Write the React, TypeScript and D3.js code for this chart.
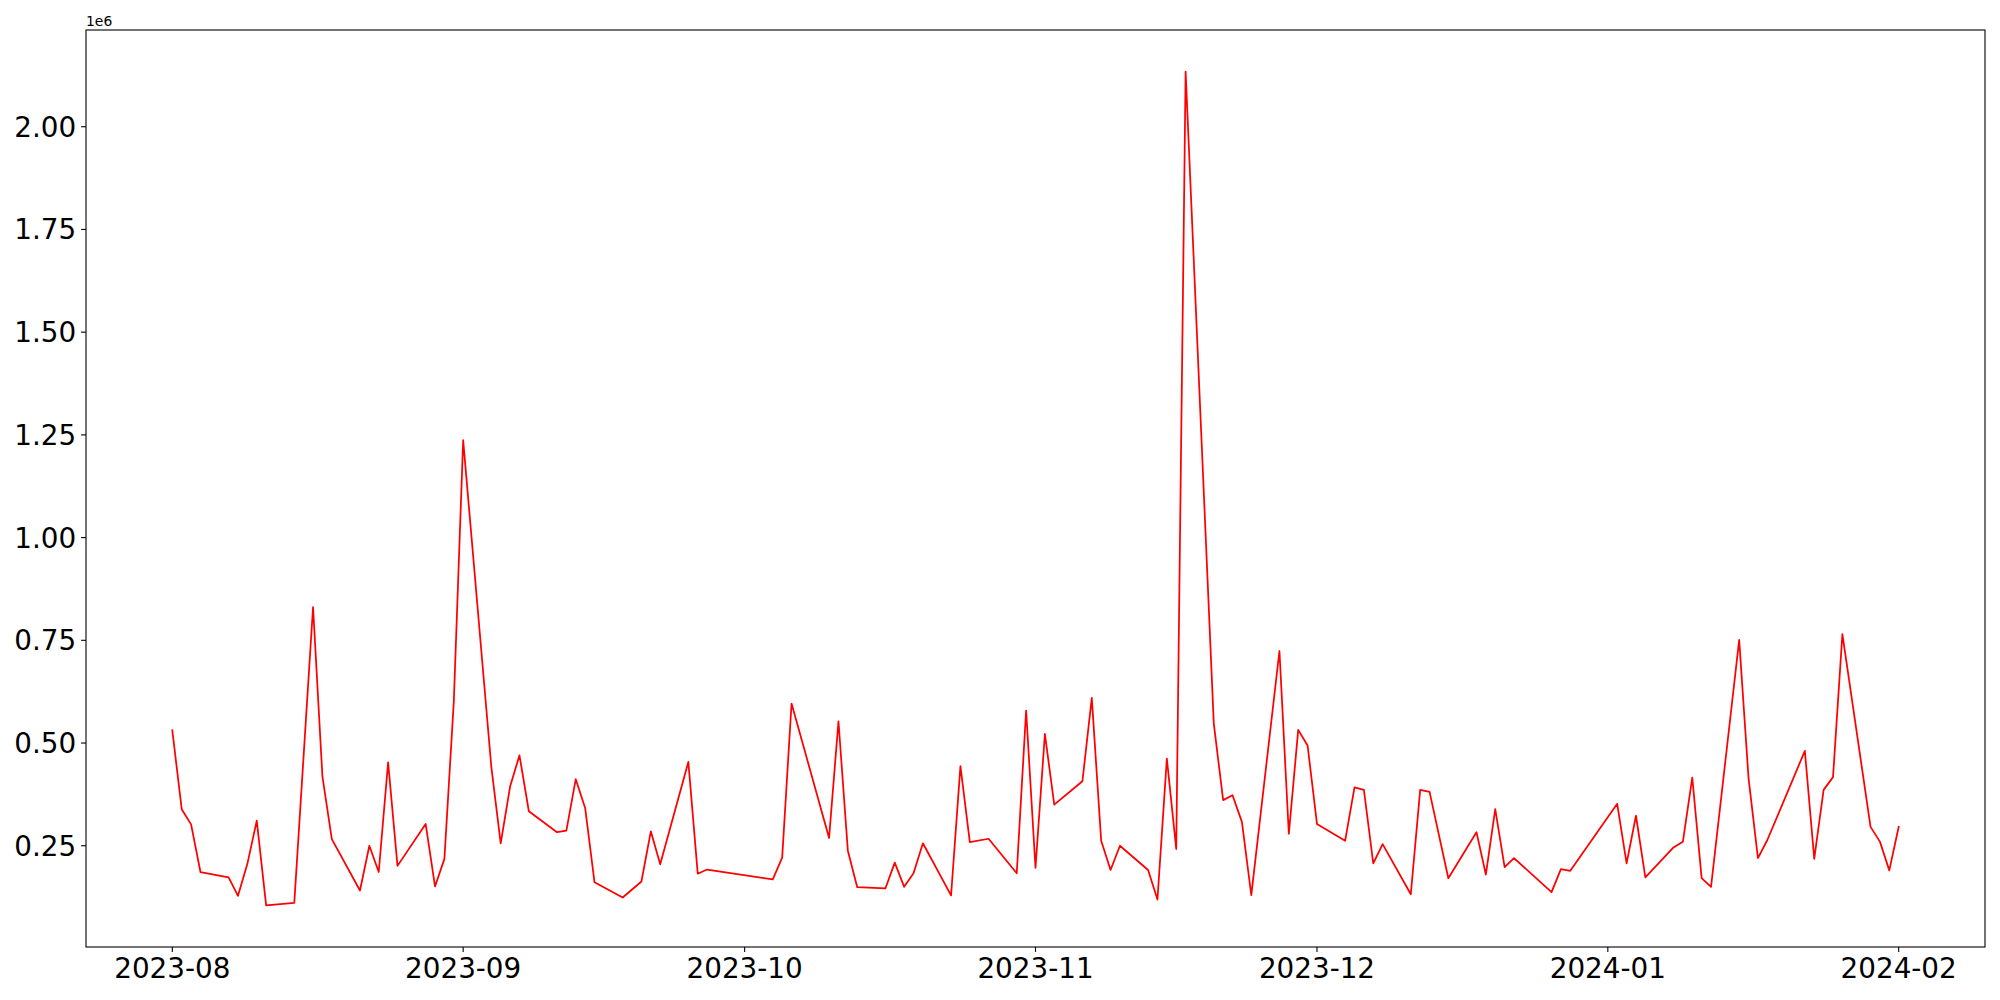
import React, { useEffect, useRef } from "react";
import * as d3 from "d3";

const dates: string[] = [
  "2023-08-01","2023-08-02","2023-08-03","2023-08-04","2023-08-07","2023-08-08","2023-08-09","2023-08-10","2023-08-11","2023-08-14",
  "2023-08-16","2023-08-17","2023-08-18","2023-08-21","2023-08-22","2023-08-23","2023-08-24","2023-08-25","2023-08-28","2023-08-29",
  "2023-08-30","2023-08-31","2023-09-01","2023-09-04","2023-09-05","2023-09-06","2023-09-07","2023-09-08","2023-09-11","2023-09-12",
  "2023-09-13","2023-09-14","2023-09-15","2023-09-18","2023-09-20","2023-09-21","2023-09-22","2023-09-25","2023-09-26","2023-09-27",
  "2023-10-04","2023-10-05","2023-10-06","2023-10-10","2023-10-11","2023-10-12","2023-10-13","2023-10-16","2023-10-17","2023-10-18",
  "2023-10-19","2023-10-20","2023-10-23","2023-10-24","2023-10-25","2023-10-27","2023-10-30","2023-10-31","2023-11-01","2023-11-02",
  "2023-11-03","2023-11-06","2023-11-07","2023-11-08","2023-11-09","2023-11-10","2023-11-13","2023-11-14","2023-11-15","2023-11-16",
  "2023-11-17","2023-11-20","2023-11-21","2023-11-22","2023-11-23","2023-11-24","2023-11-27","2023-11-28","2023-11-29","2023-11-30",
  "2023-12-01","2023-12-04","2023-12-05","2023-12-06","2023-12-07","2023-12-08","2023-12-11","2023-12-12","2023-12-13","2023-12-15",
  "2023-12-18","2023-12-19","2023-12-20","2023-12-21","2023-12-22","2023-12-26","2023-12-27","2023-12-28","2024-01-02","2024-01-03",
  "2024-01-04","2024-01-05","2024-01-08","2024-01-09","2024-01-10","2024-01-11","2024-01-12","2024-01-15","2024-01-16","2024-01-17",
  "2024-01-18","2024-01-22","2024-01-23","2024-01-24","2024-01-25","2024-01-26","2024-01-29","2024-01-30","2024-01-31","2024-02-01",
];

// values in units of 1e6
const values: number[] = [
  0.531,0.339,0.302,0.186,0.173,0.128,0.206,0.311,0.105,0.111,
  0.831,0.418,0.266,0.141,0.250,0.186,0.453,0.201,0.303,0.151,
  0.218,0.600,1.237,0.442,0.256,0.394,0.470,0.334,0.283,0.287,
  0.412,0.342,0.161,0.124,0.163,0.285,0.205,0.454,0.182,0.192,
  0.168,0.221,0.596,0.269,0.553,0.238,0.149,0.146,0.209,0.150,
  0.183,0.256,0.129,0.444,0.259,0.267,0.183,0.579,0.196,0.522,
  0.350,0.407,0.610,0.262,0.191,0.250,0.191,0.119,0.462,0.242,
  2.134,0.548,0.361,0.373,0.308,0.130,0.724,0.279,0.532,0.494,
  0.303,0.262,0.392,0.386,0.207,0.254,0.132,0.386,0.381,0.171,
  0.283,0.180,0.339,0.198,0.220,0.137,0.193,0.189,0.352,0.207,
  0.323,0.173,0.246,0.260,0.416,0.171,0.150,0.751,0.414,0.220,
  0.264,0.481,0.218,0.386,0.417,0.765,0.296,0.260,0.190,0.296,
];

const yTicks: number[] = [0.25, 0.5, 0.75, 1.0, 1.25, 1.5, 1.75, 2.0];
const xTickLabels: string[] = ["2023-08", "2023-09", "2023-10", "2023-11", "2023-12", "2024-01", "2024-02"];

const W = 2000, H = 1000;
const L = 86, R = 1985, T = 30, B = 947;
const FONT = "DejaVu Sans, sans-serif";

export default function App() {
  const ref = useRef<SVGSVGElement>(null);
  useEffect(() => {
    const svg = d3.select(ref.current);
    svg.selectAll("*").remove();
    const parse = d3.utcParse("%Y-%m-%d");
    const data = dates.map((d, i) => ({ d: parse(d) as Date, v: values[i] }));
    const [x0, x1] = d3.extent(data, (p) => p.d) as [Date, Date];
    const span = +x1 - +x0;
    const x = d3.scaleUtc().domain([new Date(+x0 - span * 0.05), new Date(+x1 + span * 0.05)]).range([L, R]);
    const [v0, v1] = d3.extent(values) as [number, number];
    const vs = v1 - v0;
    const y = d3.scaleLinear().domain([v0 - vs * 0.05, v1 + vs * 0.05]).range([B, T]);

    svg.append("rect").attr("width", W).attr("height", H).attr("fill", "white");

    const line = d3.line<{ d: Date; v: number }>().x((p) => x(p.d)).y((p) => y(p.v));
    svg.append("path").datum(data).attr("d", line).attr("fill", "none")
      .attr("stroke", "#ff0000").attr("stroke-width", 1.75).attr("stroke-linejoin", "round").attr("stroke-linecap", "square");

    // spines
    svg.append("rect").attr("x", L).attr("y", T).attr("width", R - L).attr("height", B - T)
      .attr("fill", "none").attr("stroke", "black").attr("stroke-width", 1.1);

    // y ticks
    const gy = svg.append("g");
    yTicks.forEach((t) => {
      const yy = y(t);
      gy.append("line").attr("x1", L - 4.9).attr("x2", L).attr("y1", yy).attr("y2", yy)
        .attr("stroke", "black").attr("stroke-width", 1.1);
      gy.append("text").attr("x", L - 9.8).attr("y", yy + 10).attr("text-anchor", "end")
        .attr("font-family", FONT).attr("font-size", 27.8).attr("fill", "black").text(d3.format(".2f")(t));
    });

    // x ticks
    const gx = svg.append("g");
    xTickLabels.forEach((lab) => {
      const dt = d3.utcParse("%Y-%m")(lab) as Date;
      const xx = x(dt);
      gx.append("line").attr("x1", xx).attr("x2", xx).attr("y1", B).attr("y2", B + 4.9)
        .attr("stroke", "black").attr("stroke-width", 1.1);
      gx.append("text").attr("x", xx).attr("y", B + 31).attr("text-anchor", "middle")
        .attr("font-family", FONT).attr("font-size", 27.8).attr("fill", "black").text(lab);
    });

    svg.append("text").attr("x", L).attr("y", 26).attr("font-family", FONT).attr("font-size", 13.9)
      .attr("fill", "black").text("1e6");
  }, []);
  return (
    <svg ref={ref} width={W} height={H} style={{ position: "absolute", left: 0, top: 0, display: "block" }} />
  );
}
